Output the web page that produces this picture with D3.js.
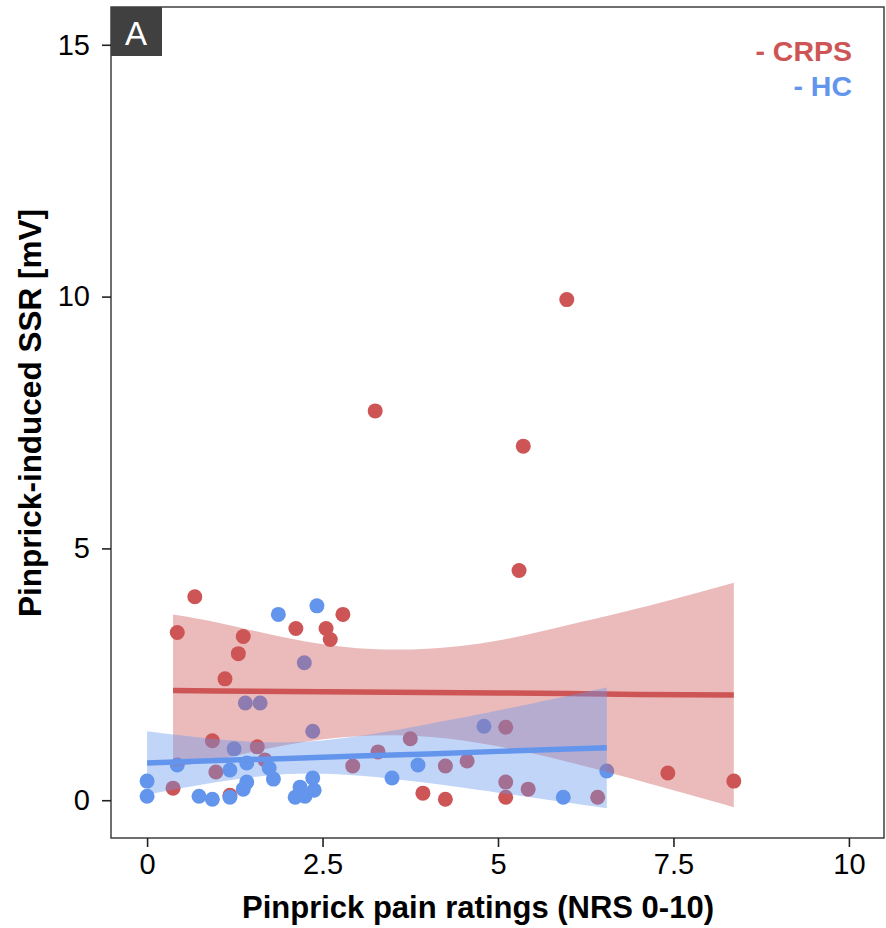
<!DOCTYPE html>
<html>
<head>
<meta charset="utf-8">
<script src="https://cdn.jsdelivr.net/npm/d3@7"></script>
<style>
  body { margin: 0; background: #fff; }
  svg text { font-family: "Liberation Sans", Arial, Helvetica, sans-serif; }
</style>
</head>
<body>
<div id="chart-container"></div>
<script>
// CRPS patients
const crpsX = [0.68, 0.43, 1.37, 1.30, 1.11, 2.12, 2.55, 2.61, 2.79, 3.25, 5.98, 5.36, 5.30, 7.42, 8.36,
  3.93, 4.25, 5.11, 5.11, 5.11, 5.43, 6.42, 0.93, 0.37, 0.98, 1.18, 1.57, 1.68, 2.93, 3.29, 3.75, 4.25, 4.56];
const crpsY = [4.04, 3.33, 3.25, 2.91, 2.41, 3.41, 3.41, 3.19, 3.69, 7.73, 9.94, 7.03, 4.56, 0.54, 0.38,
  0.14, 0.02, 0.06, 0.36, 1.45, 0.22, 0.06, 1.18, 0.24, 0.56, 0.10, 1.06, 0.80, 0.68, 0.96, 1.22, 0.68, 0.78];

// healthy controls
const hcX = [0, 0, 0.43, 0.74, 0.93, 1.18, 1.18, 1.42, 1.42, 1.37, 1.40, 1.61, 1.24, 2.36, 1.74,
  1.80, 2.36, 2.18, 2.11, 2.25, 2.38, 3.86, 3.49, 4.80, 5.93, 6.55, 1.87, 2.42, 2.24];
const hcY = [0.38, 0.08, 0.70, 0.08, 0.02, 0.60, 0.06, 0.74, 0.36, 0.22, 1.93, 1.93, 1.02, 1.37, 0.64,
  0.42, 0.44, 0.26, 0.06, 0.08, 0.20, 0.70, 0.44, 1.47, 0.06, 0.58, 3.69, 3.86, 2.73];

// linear fits with 95% confidence band
const crpsFitX = [0.37, 1, 2, 3, 4, 5, 6, 7, 8.36];
const crpsFit = [2.18, 2.17, 2.16, 2.15, 2.14, 2.13, 2.12, 2.10, 2.09];
const crpsLow = [0.66, 0.81, 1.10, 1.27, 1.26, 1.07, 0.76, 0.39, -0.14];
const crpsHigh = [3.69, 3.53, 3.22, 3.02, 3.01, 3.17, 3.48, 3.81, 4.32];

const hcFitX = [0, 1, 2, 3, 4, 5, 6.55];
const hcFit = [0.74, 0.79, 0.83, 0.88, 0.92, 0.97, 1.04];
const hcLow = [0.11, 0.36, 0.52, 0.49, 0.34, 0.15, -0.16];
const hcHigh = [1.37, 1.21, 1.15, 1.27, 1.51, 1.78, 2.24];

const xTicks = [0, 2.5, 5, 7.5, 10];
const yTicks = [0, 5, 10, 15];

const red = "#cd5555";
const blue = "#6495ed";

const width = 886;
const height = 928;
const panelLeft = 112, panelRight = 884, panelTop = 7, panelBottom = 838;

const svg = d3.select("#chart-container")
  .append("svg")
  .attr("width", width)
  .attr("height", height);

const x = d3.scaleLinear().domain([-0.5, 10.5]).range([panelLeft, panelRight]);
const y = d3.scaleLinear().domain([-0.75, 15.75]).range([panelBottom, panelTop]);

svg.append("clipPath").attr("id", "panel")
  .append("rect")
  .attr("x", panelLeft).attr("y", panelTop)
  .attr("width", panelRight - panelLeft).attr("height", panelBottom - panelTop);

const plot = svg.append("g").attr("clip-path", "url(#panel)");

function drawPoints(xs, ys, color) {
  plot.append("g")
    .selectAll("circle")
    .data(xs.map((d, i) => [d, ys[i]]))
    .enter()
    .append("circle")
    .attr("cx", d => x(d[0]))
    .attr("cy", d => y(d[1]))
    .attr("r", 7.5)
    .attr("fill", color);
}

function drawSmooth(xs, fit, low, high, color) {
  const rows = xs.map((d, i) => ({ x: d, fit: fit[i], low: low[i], high: high[i] }));
  const area = d3.area()
    .x(d => x(d.x))
    .y0(d => y(d.low))
    .y1(d => y(d.high))
    .curve(d3.curveNatural);
  const line = d3.line()
    .x(d => x(d.x))
    .y(d => y(d.fit));
  plot.append("path")
    .attr("d", area(rows))
    .attr("fill", color)
    .attr("fill-opacity", 0.4);
  plot.append("path")
    .attr("d", line(rows))
    .attr("fill", "none")
    .attr("stroke", color)
    .attr("stroke-width", 5.5);
}

drawPoints(crpsX, crpsY, red);
drawPoints(hcX, hcY, blue);
drawSmooth(crpsFitX, crpsFit, crpsLow, crpsHigh, red);
drawSmooth(hcFitX, hcFit, hcLow, hcHigh, blue);

// panel border
svg.append("rect")
  .attr("x", panelLeft - 1).attr("y", panelTop)
  .attr("width", panelRight - panelLeft + 1).attr("height", panelBottom - panelTop)
  .attr("fill", "none")
  .attr("stroke", "#333")
  .attr("stroke-width", 1.4);

// axes
const xAxis = svg.append("g")
  .attr("transform", `translate(0,${panelBottom})`)
  .call(d3.axisBottom(x).tickValues(xTicks).tickSize(9).tickPadding(6).tickFormat(d3.format("")));
const yAxis = svg.append("g")
  .attr("transform", `translate(${panelLeft - 1},0)`)
  .call(d3.axisLeft(y).tickValues(yTicks).tickSize(9).tickPadding(12).tickFormat(d3.format("")));

[xAxis, yAxis].forEach(a => {
  a.select(".domain").remove();
  a.selectAll(".tick line").attr("stroke", "#222").attr("stroke-width", 1.6);
  a.selectAll(".tick text")
    .attr("fill", "#000")
    .attr("font-size", 29)
    .style("font-family", "'Liberation Sans', Arial, Helvetica, sans-serif");
});

// titles
svg.append("text")
  .attr("x", 478)
  .attr("y", 918)
  .attr("text-anchor", "middle")
  .attr("font-size", 31)
  .attr("font-weight", "bold")
  .text("Pinprick pain ratings (NRS 0-10)");

svg.append("text")
  .attr("transform", "translate(41,413) rotate(-90)")
  .attr("text-anchor", "middle")
  .attr("font-size", 31.5)
  .attr("font-weight", "bold")
  .text("Pinprick-induced SSR [mV]");

// legend
svg.append("text")
  .attr("x", 852).attr("y", 61)
  .attr("text-anchor", "end")
  .attr("font-size", 28.5)
  .attr("font-weight", "bold")
  .attr("fill", red)
  .text("- CRPS");
svg.append("text")
  .attr("x", 852).attr("y", 96)
  .attr("text-anchor", "end")
  .attr("font-size", 28.5)
  .attr("font-weight", "bold")
  .attr("fill", blue)
  .text("- HC");

// panel tag
svg.append("rect")
  .attr("x", panelLeft - 1).attr("y", panelTop)
  .attr("width", 51).attr("height", 49)
  .attr("fill", "#404040");
svg.append("text")
  .attr("x", 136).attr("y", 45)
  .attr("text-anchor", "middle")
  .attr("font-size", 33)
  .attr("fill", "#fff")
  .text("A");
</script>
</body>
</html>
